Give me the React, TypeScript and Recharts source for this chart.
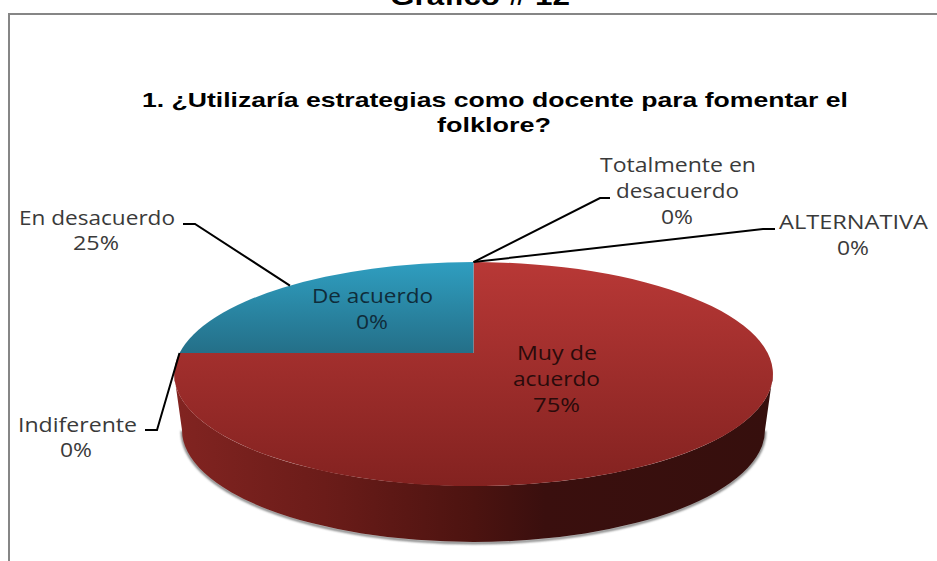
import React from "react";
import { PieChart, Pie, Cell } from "recharts";

const categories = ["ALTERNATIVA", "Muy de acuerdo", "De acuerdo", "Indiferente", "En desacuerdo", "Totalmente en desacuerdo"];
const shares = [0, 75, 0, 0, 25, 0];
const chartTitle = ["1. ¿Utilizaría estrategias como docente para fomentar el", "folklore?"];
const pageTitle = "Gráfico # 12";
const data = categories.map((name, i) => ({ name, value: shares[i] }));

const W = 937, H = 561;
const CX = 473.5, CY = 353, R = 294;
const P = 0.1875, VS = 108 / 294;
const EY = 374, RX = 299.4, RY = 112;
const DEPTH_CY = 430, DEPTH_RX = 291.5;

const project = (deg: number, cx: number, cy: number, r: number) => {
  const a = (deg * Math.PI) / 180;
  const u = Math.cos(a), v = Math.sin(a);
  const w = 1 + P * v;
  return { x: cx + (r * u) / w, y: cy - (r * VS * v) / w };
};

type Line = { t: string; x0: number; x1: number; y: number };
type Lay = { lines: Line[]; fill: string; leader?: number[][] };
const layout: Record<string, Lay> = {
  "ALTERNATIVA": { fill: "#3a3a3a", lines: [{ t: "ALTERNATIVA", x0: 779, x1: 928, y: 229 }, { t: "%", x0: 837, x1: 869, y: 255 }], leader: [[775, 229], [763, 229]] },
  "Muy de acuerdo": { fill: "#2a0b0b", lines: [{ t: "Muy de", x0: 517, x1: 597, y: 360 }, { t: "acuerdo", x0: 513, x1: 600, y: 386 }, { t: "%", x0: 533, x1: 580, y: 412 }] },
  "De acuerdo": { fill: "#0f2c3a", lines: [{ t: "De acuerdo", x0: 312, x1: 433, y: 303 }, { t: "%", x0: 356, x1: 388, y: 329 }] },
  "Indiferente": { fill: "#3a3a3a", lines: [{ t: "Indiferente", x0: 18, x1: 137, y: 432 }, { t: "%", x0: 60, x1: 92, y: 457 }], leader: [[145, 430], [157, 430]] },
  "En desacuerdo": { fill: "#3a3a3a", lines: [{ t: "En desacuerdo", x0: 19, x1: 175, y: 225 }, { t: "%", x0: 73, x1: 119, y: 250 }], leader: [[183, 224], [195, 224]] },
  "Totalmente en desacuerdo": { fill: "#3a3a3a", lines: [{ t: "Totalmente en", x0: 600, x1: 756, y: 172 }, { t: "desacuerdo", x0: 616, x1: 739, y: 198 }, { t: "%", x0: 661, x1: 693, y: 224 }], leader: [[610, 198], [600, 198]] },
};

const SectorShape = (props: any) => {
  const { cx, cy, outerRadius, startAngle, endAngle, index } = props;
  const span = Math.abs(endAngle - startAngle);
  if (span < 0.01) return <g />;
  const a = project(startAngle, cx, cy, outerRadius);
  const b = project(endAngle, cx, cy, outerRadius);
  const large = span > 180 ? 1 : 0;
  const d = `M${cx},${cy} L${a.x},${a.y} A${RX},${RY} 0 ${large} 1 ${b.x},${b.y} Z`;
  const isFront = span > 180;
  const xl = cx - RX, xr = cx + RX;
  const side = `M${xl},${EY} L${cx - DEPTH_RX},${DEPTH_CY} A${DEPTH_RX},${RY} 0 0 0 ${cx + DEPTH_RX},${DEPTH_CY} L${xr},${EY} A${RX},${RY} 0 0 1 ${xl},${EY} Z`;
  const rim = `M${cx - DEPTH_RX},${DEPTH_CY} A${DEPTH_RX},${RY} 0 0 0 ${cx + DEPTH_RX},${DEPTH_CY}`;
  return (
    <g>
      {isFront && <path d={rim} fill="none" stroke="#777" strokeWidth={2.5} filter="url(#soft)" transform="translate(0,1)" />}
      {isFront && <path d={side} fill="url(#sideGrad)" />}
      <path d={d} fill={index === 1 ? "url(#redGrad)" : "url(#blueGrad)"} />
    </g>
  );
};

const renderLabel = (props: any) => {
  const { name, percent, startAngle, endAngle, midAngle, cx, cy, outerRadius } = props;
  const lay = layout[name];
  const mid = midAngle ?? (startAngle + endAngle) / 2;
  const anchor = project(mid, cx, cy, outerRadius);
  const pct = `${Math.round(percent * 100)}%`;
  return (
    <g key={name}>
      {lay.leader && (
        <polyline
          points={[...lay.leader, [anchor.x, anchor.y]].map((p) => p.join(",")).join(" ")}
          fill="none"
          stroke="#000"
          strokeWidth={2}
        />
      )}
      {lay.lines.map((l) => (
        <text
          key={l.t}
          x={l.x0}
          y={l.y}
          fontFamily="'Open Sans', sans-serif"
          fontSize={20}
          fill={lay.fill}
          textLength={l.x1 - l.x0}
          lengthAdjust="spacingAndGlyphs"
        >
          {l.t === "%" ? pct : l.t}
        </text>
      ))}
    </g>
  );
};

export default function App() {
  return (
    <div style={{ position: "fixed", left: 0, top: 0, width: W, height: H, background: "#fff", overflow: "hidden" }}>
      <PieChart width={W} height={H} margin={{ top: 0, right: 0, bottom: 0, left: 0 }}>
        <defs>
          <linearGradient id="redGrad" gradientUnits="userSpaceOnUse" x1="0" y1="262" x2="0" y2="486">
            <stop offset="0" stopColor="#b83836" />
            <stop offset="1" stopColor="#832220" />
          </linearGradient>
          <linearGradient id="blueGrad" gradientUnits="userSpaceOnUse" x1="0" y1="262" x2="0" y2="353">
            <stop offset="0" stopColor="#2f9ec0" />
            <stop offset="1" stopColor="#246f88" />
          </linearGradient>
          <linearGradient id="sideGrad" gradientUnits="userSpaceOnUse" x1="175" y1="0" x2="772" y2="0">
            <stop offset="0" stopColor="#822421" />
            <stop offset="0.25" stopColor="#6b1c19" />
            <stop offset="0.5" stopColor="#4c1310" />
            <stop offset="0.62" stopColor="#3a0f0e" />
            <stop offset="1" stopColor="#360f0d" />
          </linearGradient>
          <filter id="soft" x="-5%" y="-5%" width="110%" height="120%">
            <feGaussianBlur stdDeviation="1.2" />
          </filter>
        </defs>
        <path d={`M9,561 L9,14 L${W},14`} fill="none" stroke="#868686" strokeWidth={2} />
        <text x={390} y={5} fontFamily="'Liberation Sans', Arial, sans-serif" fontWeight={700} fontSize={26} fill="#000" textLength={180} lengthAdjust="spacingAndGlyphs">{pageTitle}</text>
        <text x={142} y={107} fontFamily="'Liberation Sans', Arial, sans-serif" fontWeight={700} fontSize={21} fill="#000" textLength={706} lengthAdjust="spacingAndGlyphs">{chartTitle[0]}</text>
        <text x={437} y={132} fontFamily="'Liberation Sans', Arial, sans-serif" fontWeight={700} fontSize={21} fill="#000" textLength={114} lengthAdjust="spacingAndGlyphs">{chartTitle[1]}</text>
        <Pie
          data={data}
          dataKey="value"
          nameKey="name"
          cx={CX}
          cy={CY}
          innerRadius={0}
          outerRadius={R}
          startAngle={90}
          endAngle={-270}
          paddingAngle={0}
          stroke="none"
          isAnimationActive={false}
          shape={SectorShape}
          labelLine={false}
          label={renderLabel}
          rootTabIndex={-1}
        >
          {data.map((d) => (
            <Cell key={d.name} />
          ))}
        </Pie>
      </PieChart>
    </div>
  );
}
